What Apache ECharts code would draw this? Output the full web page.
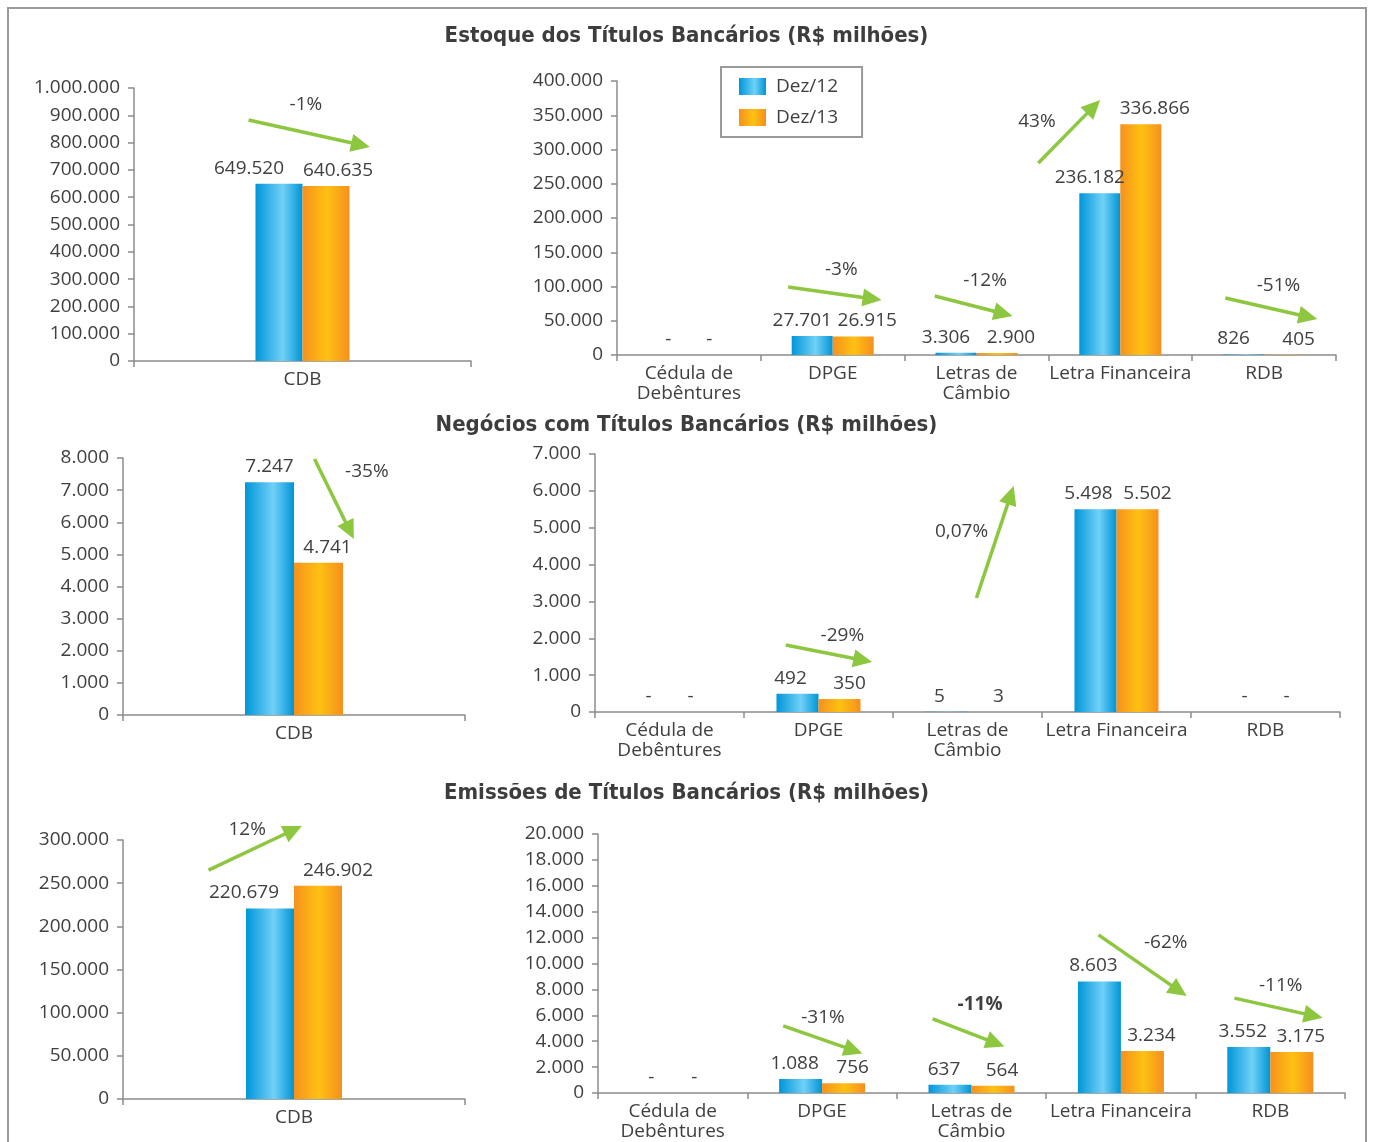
<!DOCTYPE html>
<html><head><meta charset="utf-8">
<script src="https://cdn.jsdelivr.net/npm/echarts@6/dist/echarts.min.js"></script>
<style>html,body{margin:0;padding:0;background:#fff}#c{width:1373px;height:1142px}</style>
</head><body><div id="c"></div><script>
// ---------------- DATA ----------------
const seriesNames = ['Dez/12', 'Dez/13'];
const cdbCategories = ['CDB'];
const otherCategories = ['Cédula de\nDebêntures', 'DPGE', 'Letras de\nCâmbio', 'Letra Financeira', 'RDB'];

const sectionTitles = [
  'Estoque dos Títulos Bancários (R$ milhões)',
  'Negócios com Títulos Bancários (R$ milhões)',
  'Emissões de Títulos Bancários (R$ milhões)'
];

const estoqueCdb12 = [649520];
const estoqueCdb13 = [640635];
const estoqueOutros12 = [0, 27701, 3306, 236182, 826];
const estoqueOutros13 = [0, 26915, 2900, 336866, 405];

const negociosCdb12 = [7247];
const negociosCdb13 = [4741];
const negociosOutros12 = [0, 492, 5, 5498, 0];
const negociosOutros13 = [0, 350, 3, 5502, 0];

const emissoesCdb12 = [220679];
const emissoesCdb13 = [246902];
const emissoesOutros12 = [0, 1088, 637, 8603, 3552];
const emissoesOutros13 = [0, 756, 564, 3234, 3175];

// y-axis scales: max and tick step per panel
const axisMax = [1000000, 400000, 8000, 7000, 300000, 20000];
const axisStep = [100000, 50000, 1000, 1000, 50000, 2000];

// change annotations (data units: x = category position, y = axis value)
const changeNotes = [
  { panel: 0, from: [-0.16, 882800], to: [0.20, 783900], text: '-1%', at: [0.01, 937700] },
  { panel: 1, from: [0.69, 99300], to: [1.34, 80300], text: '-3%', at: [1.06, 124100] },
  { panel: 1, from: [1.71, 86100], to: [2.25, 56900], text: '-12%', at: [2.06, 108000] },
  { panel: 1, from: [2.43, 280300], to: [2.86, 372300], text: '43%', at: [2.42, 340100] },
  { panel: 1, from: [3.73, 83200], to: [4.37, 52500], text: '-51%', at: [4.10, 100700] },
  { panel: 2, from: [0.06, 7970], to: [0.175, 5480], text: '-35%', at: [0.213, 7565] },
  { panel: 3, from: [0.78, 1818], to: [1.36, 1357], text: '-29%', at: [1.16, 2062] },
  { panel: 3, from: [2.06, 3093], to: [2.31, 6131], text: '0,07%', at: [1.96, 4884] },
  { panel: 4, from: [-0.25, 265200], to: [0.023, 316200], text: '12%', at: [-0.137, 311600] },
  { panel: 5, from: [0.74, 5190], to: [1.27, 3054], text: '-31%', at: [1.006, 5802] },
  { panel: 5, from: [1.74, 5726], to: [2.22, 3588], text: '-11%', at: [2.057, 6794], bold: true },
  { panel: 5, from: [2.85, 12214], to: [3.44, 7481], text: '-62%', at: [3.30, 11604] },
  { panel: 5, from: [3.76, 7329], to: [4.35, 5802], text: '-11%', at: [4.07, 8321] }
];

// ---------------- LAYOUT / STYLE ----------------
const panels = [
  { cats: cdbCategories, a: estoqueCdb12, b: estoqueCdb13, grid: { left: 134, top: 88, width: 337, height: 273 }, bw: 47, off: [-30, 12] },
  { cats: otherCategories, a: estoqueOutros12, b: estoqueOutros13, grid: { left: 617, top: 81, width: 719, height: 274 }, bw: 41, off: [-10, 14] },
  { cats: cdbCategories, a: negociosCdb12, b: negociosCdb13, grid: { left: 123, top: 458, width: 342, height: 257 }, bw: 49, off: [0, 9] },
  { cats: otherCategories, a: negociosOutros12, b: negociosOutros13, grid: { left: 595, top: 454, width: 745, height: 258 }, bw: 42, off: [-7, 10] },
  { cats: cdbCategories, a: emissoesCdb12, b: emissoesCdb13, grid: { left: 123, top: 840, width: 342, height: 259 }, bw: 48, off: [-26, 20] },
  { cats: otherCategories, a: emissoesOutros12, b: emissoesOutros13, grid: { left: 598, top: 834, width: 747, height: 262 }, bw: 43, off: [-6, 9] }
];
const titleTops = [25, 414, 782];

const TXT = '#404040';
const AX = '#8c8c8c';
const FONT = '"Open Sans", "Noto Sans", sans-serif';
const TFONT = '"DejaVu Sans Condensed", "Liberation Sans Narrow", sans-serif';
const GREEN = '#8dc63f';

const blueGrad = { type: 'linear', x: 0, y: 0, x2: 1, y2: 0, colorStops: [
  { offset: 0, color: '#0096d9' }, { offset: 0.58, color: '#70d1f7' }, { offset: 1, color: '#0094d6' }] };
const orangeGrad = { type: 'linear', x: 0, y: 0, x2: 1, y2: 0, colorStops: [
  { offset: 0, color: '#f6911e' }, { offset: 0.52, color: '#fec112' }, { offset: 1, color: '#f5901e' }] };

function fmt(v) {
  const s = String(Math.round(Math.abs(v)));
  return (v < 0 ? '-' : '') + s.replace(/\B(?=(\d{3})+(?!\d))/g, '.');
}

const grids = [], xAxes = [], yAxes = [], series = [];
panels.forEach((p, i) => {
  grids.push(Object.assign({ containLabel: false }, p.grid));
  xAxes.push({
    type: 'category', gridIndex: i, data: p.cats,
    axisLine: { onZero: false, lineStyle: { color: AX, width: 1.5 } },
    axisTick: { show: true, length: 6, lineStyle: { color: AX, width: 1.5 } },
    axisLabel: { color: TXT, fontSize: 19, fontFamily: FONT, margin: 9, lineHeight: 20, interval: 0 },
    splitLine: { show: false }
  });
  xAxes.push({ type: 'value', gridIndex: i, min: -0.5, max: p.cats.length - 0.5, show: false });
  yAxes.push({
    type: 'value', gridIndex: i, min: 0, max: axisMax[i], interval: axisStep[i],
    axisLine: { show: true, onZero: false, lineStyle: { color: AX, width: 1.5 } },
    axisTick: { show: true, length: 6, lineStyle: { color: AX, width: 1.5 } },
    axisLabel: { color: TXT, fontSize: 19, fontFamily: FONT, margin: 14, formatter: fmt },
    splitLine: { show: false }
  });
  [[p.a, blueGrad, p.off[0]], [p.b, orangeGrad, p.off[1]]].forEach((d, k) => {
    series.push({
      type: 'bar', name: seriesNames[k], xAxisIndex: 2 * i, yAxisIndex: i,
      data: d[0].map(v => v === 0 ? { value: 0, label: { offset: [0, 0] } } : v),
      barWidth: p.bw, barGap: '0%',
      itemStyle: { color: d[1] },
      label: {
        show: true, position: 'top', distance: 6, offset: [d[2], 0],
        color: TXT, fontSize: 19, fontFamily: FONT,
        formatter: (o) => o.value === 0 ? '-' : fmt(o.value)
      }
    });
  });
});

const chart = echarts.init(document.getElementById('c'), null, { renderer: 'canvas' });
chart.setOption({
  animation: false,
  backgroundColor: '#fff',
  title: sectionTitles.map((t, i) => ({
    text: t, left: 'center', top: titleTops[i], padding: 0,
    textStyle: { color: '#3d3d3d', fontSize: 22, fontWeight: 'bold', fontFamily: TFONT }
  })),
  legend: {
    data: seriesNames, orient: 'vertical', left: 721, top: 67,
    padding: [10, 24, 10, 18], itemGap: 12, itemWidth: 27, itemHeight: 17,
    borderColor: '#9a9a9a', borderWidth: 2, icon: 'rect',
    textStyle: { color: TXT, fontSize: 19, fontFamily: FONT, padding: [0, 0, 0, 5] }
  },
  grid: grids, xAxis: xAxes, yAxis: yAxes, series: series
});

// arrows + percentage labels placed through the panels' own axes
const gfx = [{
  type: 'rect', silent: true, z: -10,
  shape: { x: 8, y: 8, width: 1358, height: 1170 },
  style: { fill: 'none', stroke: '#9a9a9a', lineWidth: 2 }
}];
changeNotes.forEach(n => {
  const finder = { xAxisIndex: 2 * n.panel + 1, yAxisIndex: n.panel };
  const p1 = chart.convertToPixel(finder, n.from);
  const p2 = chart.convertToPixel(finder, n.to);
  const dx = p2[0] - p1[0], dy = p2[1] - p1[1], len = Math.hypot(dx, dy);
  const ux = dx / len, uy = dy / len, L = 19, W = 9;
  const bx = p2[0] - ux * L, by = p2[1] - uy * L;
  gfx.push({ type: 'line', silent: true,
    shape: { x1: p1[0], y1: p1[1], x2: bx + ux * 2, y2: by + uy * 2 },
    style: { stroke: GREEN, lineWidth: 3.5 } });
  gfx.push({ type: 'polygon', silent: true,
    shape: { points: [[p2[0], p2[1]], [bx - uy * W, by + ux * W], [bx + uy * W, by - ux * W]] },
    style: { fill: GREEN } });
  const pt = chart.convertToPixel(finder, n.at);
  gfx.push({ type: 'text', silent: true, x: pt[0], y: pt[1],
    style: { text: n.text, align: 'center', verticalAlign: 'middle', fill: TXT,
      fontSize: 19, fontFamily: FONT, fontWeight: n.bold ? 'bold' : 'normal' } });
});
chart.setOption({ graphic: gfx });
</script></body></html>
